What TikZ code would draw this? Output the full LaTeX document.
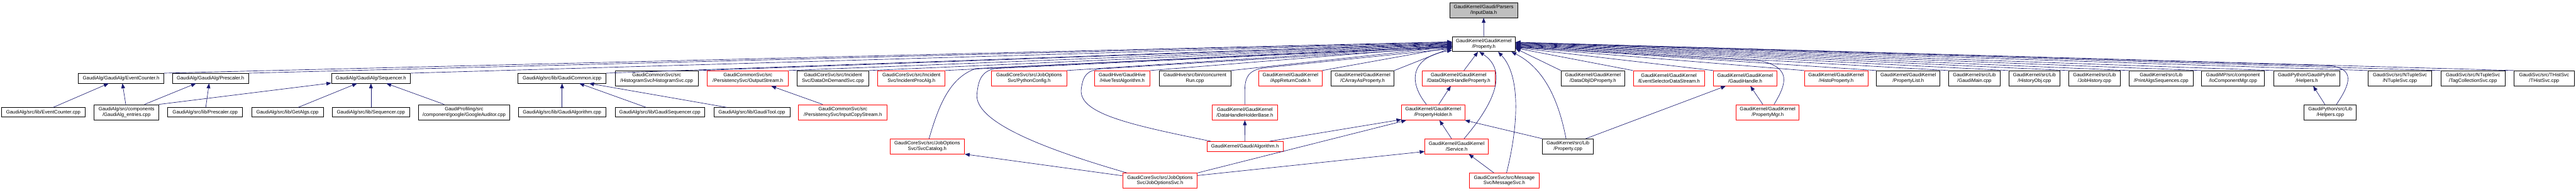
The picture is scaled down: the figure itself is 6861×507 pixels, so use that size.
\documentclass[tikz,border=0pt]{standalone}
\usepackage{fontspec}
\setmainfont{Liberation Sans}
\usetikzlibrary{arrows.meta}
\definecolor{edgeblue}{HTML}{191970}
\definecolor{boxred}{HTML}{FF0000}
\definecolor{rootgrey}{HTML}{BFBFBF}
\newcommand{\mknode}[7]{\node[#1, minimum width={(#4-#3)*1pt}, minimum height={(#6-#5)*1pt}] (#2) at ({(#3+#4)/2},{(#5+#6)/2}) {#7};}
\begin{document}
\begin{tikzpicture}[x=1pt,y=-1pt,
  box/.style={draw=black, line width=1.3pt, fill=white, inner sep=0pt, align=center, text=black, font=\fontsize{13}{14.5}\selectfont},
  redbox/.style={box, draw=boxred},
  rootbox/.style={box, fill=rootgrey},
  dep/.style={draw=edgeblue, line width=1.1pt, -{Triangle[length=13pt,width=10pt]}, edgeblue}]
\fill[white] (0,0) rectangle (6861,507);
\useasboundingbox (0,0) rectangle (6861,507);
% row 0 and Property.h
\mknode{rootbox}{inputdata}{3861}{4042}{7}{47}{GaudiKernel/Gaudi/Parsers\\/InputData.h}
\mknode{box}{property}{3868}{4036}{97}{137}{GaudiKernel/GaudiKernel\\/Property.h}
% row 1
\mknode{box}{evch}{209}{436}{195}{221}{GaudiAlg/GaudiAlg/EventCounter.h}
\mknode{box}{presh}{459}{662}{195}{221}{GaudiAlg/GaudiAlg/Prescaler.h}
\mknode{box}{seqh}{883}{1093}{195}{221}{GaudiAlg/GaudiAlg/Sequencer.h}
\mknode{box}{gcicpp}{1380}{1614}{195}{221}{GaudiAlg/src/lib/GaudiCommon.icpp}
\mknode{box}{histsvc}{1638}{1860}{188}{228}{GaudiCommonSvc/src\\/HistogramSvc/HistogramSvc.cpp}
\mknode{redbox}{outstream}{1884}{2100}{188}{228}{GaudiCommonSvc/src\\/PersistencySvc/OutputStream.h}
\mknode{box}{dods}{2123}{2314}{188}{228}{GaudiCoreSvc/src/Incident\\Svc/DataOnDemandSvc.cpp}
\mknode{redbox}{incproc}{2338}{2517}{188}{228}{GaudiCoreSvc/src/Incident\\Svc/IncidentProcAlg.h}
\mknode{redbox}{pyconf}{2641}{2841}{188}{228}{GaudiCoreSvc/src/JobOptions\\Svc/PythonConfig.h}
\mknode{redbox}{hivetest}{2915}{3063}{188}{228}{GaudiHive/GaudiHive\\/HiveTestAlgorithm.h}
\mknode{box}{concrun}{3087}{3278}{188}{228}{GaudiHive/src/bin/concurrent\\Run.cpp}
\mknode{redbox}{apprc}{3353}{3521}{188}{228}{GaudiKernel/GaudiKernel\\/AppReturnCode.h}
\mknode{box}{carray}{3545}{3713}{188}{228}{GaudiKernel/GaudiKernel\\/CArrayAsProperty.h}
\mknode{redbox}{dohp}{3788}{3982}{188}{228}{GaudiKernel/GaudiKernel\\/DataObjectHandleProperty.h}
\mknode{box}{doidp}{4158}{4327}{188}{228}{GaudiKernel/GaudiKernel\\/DataObjIDProperty.h}
\mknode{redbox}{esds}{4350}{4540}{188}{228}{GaudiKernel/GaudiKernel\\/EventSelectorDataStream.h}
\mknode{redbox}{ghandle}{4564}{4732}{188}{228}{GaudiKernel/GaudiKernel\\/GaudiHandle.h}
\mknode{redbox}{histop}{4806}{4975}{188}{228}{GaudiKernel/GaudiKernel\\/HistoProperty.h}
\mknode{box}{proplist}{4998}{5167}{188}{228}{GaudiKernel/GaudiKernel\\/PropertyList.h}
\mknode{box}{gmain}{5190}{5327}{188}{228}{GaudiKernel/src/Lib\\/GaudiMain.cpp}
\mknode{box}{histobj}{5350}{5487}{188}{228}{GaudiKernel/src/Lib\\/HistoryObj.cpp}
\mknode{box}{jobhist}{5510}{5647}{188}{228}{GaudiKernel/src/Lib\\/JobHistory.cpp}
\mknode{box}{printalgs}{5671}{5841}{188}{228}{GaudiKernel/src/Lib\\/PrintAlgsSequences.cpp}
\mknode{box}{iocomp}{5864}{6031}{188}{228}{GaudiMP/src/component\\/IoComponentMgr.cpp}
\mknode{box}{helpersh}{6056}{6232}{188}{228}{GaudiPython/GaudiPython\\/Helpers.h}
\mknode{box}{ntuple}{6307}{6477}{188}{228}{GaudiSvc/src/NTupleSvc\\/NTupleSvc.cpp}
\mknode{box}{tagcoll}{6501}{6672}{188}{228}{GaudiSvc/src/NTupleSvc\\/TagCollectionSvc.cpp}
\mknode{box}{thist}{6696}{6856}{188}{228}{GaudiSvc/src/THistSvc\\/THistSvc.cpp}
% row 2
\mknode{box}{evcpp}{4}{227}{286}{311}{GaudiAlg/src/lib/EventCounter.cpp}
\mknode{box}{entries}{251}{423}{278}{319}{GaudiAlg/src/components\\/GaudiAlg\_entries.cpp}
\mknode{box}{prescpp}{447}{646}{286}{311}{GaudiAlg/src/lib/Prescaler.cpp}
\mknode{box}{getalgs}{670}{861}{286}{311}{GaudiAlg/src/lib/GetAlgs.cpp}
\mknode{box}{seqcpp}{885}{1091}{286}{311}{GaudiAlg/src/lib/Sequencer.cpp}
\mknode{box}{google}{1115}{1357}{278}{319}{GaudiProfiling/src\\/component/google/GoogleAuditor.cpp}
\mknode{box}{galgcpp}{1381}{1613}{286}{311}{GaudiAlg/src/lib/GaudiAlgorithm.cpp}
\mknode{box}{gseqcpp}{1638}{1877}{286}{311}{GaudiAlg/src/lib/GaudiSequencer.cpp}
\mknode{box}{gtoolcpp}{1901}{2104}{286}{311}{GaudiAlg/src/lib/GaudiTool.cpp}
\mknode{redbox}{incopy}{2127}{2363}{278}{319}{GaudiCommonSvc/src\\/PersistencySvc/InputCopyStream.h}
\mknode{redbox}{dhhb}{3228}{3403}{278}{319}{GaudiKernel/GaudiKernel\\/DataHandleHolderBase.h}
\mknode{redbox}{propholder}{3733}{3901}{278}{319}{GaudiKernel/GaudiKernel\\/PropertyHolder.h}
\mknode{redbox}{propmgr}{4624}{4792}{278}{319}{GaudiKernel/GaudiKernel\\/PropertyMgr.h}
\mknode{box}{helperscpp}{6137}{6276}{278}{319}{GaudiPython/src/Lib\\/Helpers.cpp}
% row 3
\mknode{redbox}{svccat}{2370}{2569}{369}{409}{GaudiCoreSvc/src/JobOptions\\Svc/SvcCatalog.h}
\mknode{redbox}{algh}{3215}{3417}{376}{402}{GaudiKernel/Gaudi/Algorithm.h}
\mknode{redbox}{serviceh}{3795}{3964}{369}{409}{GaudiKernel/GaudiKernel\\/Service.h}
\mknode{box}{propcpp}{4108}{4244}{369}{409}{GaudiKernel/src/Lib\\/Property.cpp}
% row 4
\mknode{redbox}{jos}{2990}{3189}{460}{500}{GaudiCoreSvc/src/JobOptions\\Svc/JobOptionsSvc.h}
\mknode{redbox}{msgsvc}{3913}{4100}{460}{500}{GaudiCoreSvc/src/Message\\Svc/MessageSvc.h}
% edges into Property.h
\draw[dep] (property) -- (inputdata);
\foreach \n [count=\i] in {evch,presh,seqh,gcicpp,histsvc,outstream,dods,incproc,pyconf,hivetest,concrun,apprc,carray}
  \draw[dep] (\n.north east) -- ([yshift={(6-(\i-1)*1.3)*1pt}]property.west);
\foreach \n [count=\i] in {doidp,esds,ghandle,histop,proplist,gmain,histobj,jobhist,printalgs,iocomp,helpersh,ntuple,tagcoll,thist}
  \draw[dep] (\n.north west) -- ([yshift={(-12+(\i-1)*1.3)*1pt}]property.east);
\draw[dep] ([xshift=14pt]dohp.north) -- (property);
\draw[dep] ([xshift=5pt]svccat.north) .. controls (2500,280) and (2530,205) .. (2600,182) -- ([yshift=-6pt]property.west);
\draw[dep] ([xshift=12pt]jos.north west) .. controls (2760,390) and (2595,320) .. (2602,250) .. controls (2606,210) and (2615,190) .. (2650,182) -- ([yshift=-7pt]property.west);
\draw[dep] ([xshift=-91pt]algh.north) .. controls (3000,330) and (2870,300) .. (2880,235) .. controls (2885,200) and (2895,188) .. (2930,183) -- ([yshift=-9pt]property.west);
\draw[dep] (dhhb.north) -- (3315.5,240) .. controls (3315.5,200) and (3330,185) .. (3370,180) -- ([yshift=-12pt]property.west);
\draw[dep] ([xshift=-18pt]propholder.north) .. controls (3745,210) and (3765,150) .. ([yshift=4pt]property.south west);
\draw[dep] ([xshift=20pt]serviceh.north) .. controls (3975,280) and (4020,190) .. ([xshift=-12pt]property.south);
\draw[dep] ([xshift=6pt]msgsvc.north) .. controls (4045,330) and (4050,200) .. ([xshift=38pt]property.south);
\draw[dep] ([xshift=-5pt]propcpp.north) .. controls (4150,260) and (4110,180) .. ([xshift=-11pt]property.south east);
\draw[dep] ([xshift=17pt]propmgr.north) .. controls (4760,220) and (4770,180) .. (4690,162) -- ([yshift=-8pt]property.east);
\draw[dep] ([xshift=16.5pt]helperscpp.north) .. controls (6262,220) and (6270,185) .. (6210,175) -- ([yshift=4pt]property.east);
% other edges
\draw[dep] ([xshift=26pt]evcpp.north) -- ([xshift=-33pt]evch.south);
\draw[dep] ([xshift=-2pt]entries.north) -- ([xshift=3.5pt]evch.south);
\draw[dep] ([xshift=48pt]entries.north) -- ([xshift=-38.5pt]presh.south);
\draw[dep] ([xshift=1.5pt]prescpp.north) -- ([xshift=-3.5pt]presh.south);
\draw[dep] (entries.north east) -- ([yshift=1pt]seqh.south west);
\draw[dep] ([xshift=28.5pt]getalgs.north) -- ([xshift=-37pt]seqh.south);
\draw[dep] (seqcpp.north) -- (seqh.south);
\draw[dep] ([xshift=-53pt]google.north) -- ([xshift=41pt]seqh.south);
\draw[dep] (galgcpp.north) -- (gcicpp.south);
\draw[dep] ([xshift=-36.5pt]gseqcpp.north) -- ([xshift=46pt]gcicpp.south);
\draw[dep] ([xshift=-66.5pt]gtoolcpp.north) -- ([xshift=72pt]gcicpp.south);
\draw[dep] ([xshift=-54pt]incopy.north) -- ([xshift=62pt]outstream.south);
\draw[dep] ([yshift=13pt]jos.west) -- (svccat.south east);
\draw[dep] (algh.north) -- (dhhb.south);
\draw[dep] ([xshift=-36pt]algh.north east) -- ([yshift=2pt]propholder.south west);
\draw[dep] (jos.north east) -- ([xshift=13pt]propholder.south west);
\draw[dep] ([yshift=-7pt]jos.north east) -- ([yshift=7pt]serviceh.south west);
\draw[dep] ([xshift=15pt]propholder.north) -- ([xshift=-21pt]dohp.south);
\draw[dep] ([xshift=-13.5pt]serviceh.north) -- ([xshift=17pt]propholder.south);
\draw[dep] ([xshift=-27.5pt]msgsvc.north) -- ([xshift=32.5pt]serviceh.south);
\draw[dep] (propcpp.north west) -- (propholder.south east);
\draw[dep] ([xshift=-21pt]propcpp.north east) -- ([xshift=33pt]ghandle.south west);
\draw[dep] ([xshift=-13pt]propmgr.north) -- ([xshift=14pt]ghandle.south);
\draw[dep] ([xshift=-14.5pt]helperscpp.north) -- ([xshift=17pt]helpersh.south);
\end{tikzpicture}
\end{document}
